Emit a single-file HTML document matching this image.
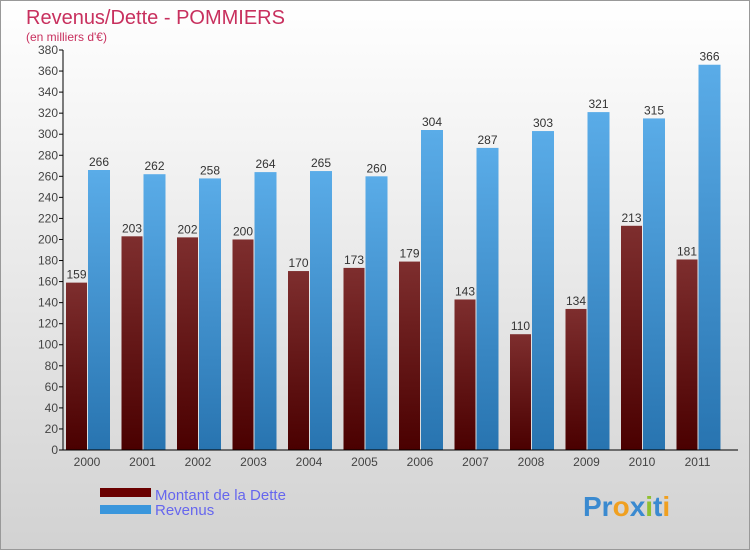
<!DOCTYPE html>
<html><head><meta charset="utf-8"><style>
body{margin:0}
svg{display:block;font-family:"Liberation Sans",sans-serif}
</style></head><body>
<svg id="c" width="750" height="550">
<defs>
<linearGradient id="bg" x1="0" y1="0" x2="0" y2="1"><stop offset="0" stop-color="#ffffff"/><stop offset="1" stop-color="#d2d2d2"/></linearGradient>
<linearGradient id="gd" x1="0" y1="0" x2="0" y2="1"><stop offset="0" stop-color="#7e2e2e"/><stop offset="1" stop-color="#4a0000"/></linearGradient>
<linearGradient id="gr" x1="0" y1="0" x2="0" y2="1"><stop offset="0" stop-color="#5aace8"/><stop offset="1" stop-color="#2874b0"/></linearGradient>
</defs>
<rect x="0.5" y="0.5" width="749" height="549" fill="url(#bg)" stroke="#999"/>
<text x="26" y="24" font-size="20" fill="#c8305e">Revenus/Dette - POMMIERS</text>
<text x="26" y="41" font-size="12" fill="#c8305e">(en milliers d'€)</text>
<g id="plot"></g>
<rect x="100" y="488" width="51" height="9" fill="#6a0000"/>
<rect x="100" y="505" width="51" height="9" fill="#3a96dc"/>
<text x="155" y="500" font-size="15" fill="#6666ee">Montant de la Dette</text>
<text x="155" y="515" font-size="15" fill="#6666ee">Revenus</text>
<text x="583" y="516" font-size="28" font-weight="bold" fill="#3a9ad8"><tspan fill="#3a8ad0">Pr</tspan><tspan fill="#f0a020">o</tspan><tspan fill="#3a8ad0">x</tspan><tspan fill="#90c030">i</tspan><tspan fill="#3a8ad0">t</tspan><tspan fill="#f0a020">i</tspan></text>
</svg>
<script>
const years=["2000","2001","2002","2003","2004","2005","2006","2007","2008","2009","2010","2011"];
const dette=[159,203,202,200,170,173,179,143,110,134,213,181];
const revenus=[266,262,258,264,265,260,304,287,303,321,315,366];
const yTicks=[0,20,40,60,80,100,120,140,160,180,200,220,240,260,280,300,320,340,360,380];
const NS="http://www.w3.org/2000/svg";
const g=document.getElementById('plot');
const x0=63,yBase=450,yTop=50,yMax=380,step=55.5;
const y=v=>yBase-(v/yMax)*(yBase-yTop);
const gx=i=>x0+3+i*step;
function mk(t,a,txt){const e=document.createElementNS(NS,t);for(const k in a)e.setAttribute(k,a[k]);if(txt!==undefined)e.textContent=txt;g.appendChild(e);return e;}
yTicks.forEach(v=>{
 const t=mk('line',{x1:x0-4,x2:x0,y1:y(v),y2:y(v),stroke:'#000'});
 
 
 const l=mk('text',{x:x0-5,y:y(v)+4,'font-size':12,fill:'#444','text-anchor':'end'},v);
 
 
});
years.forEach((yr,i)=>{
 const bx=gx(i);
 const b1=mk('rect',{x:bx,y:y(dette[i]),width:21,height:yBase-y(dette[i]),fill:'url(#gd)'});
 
 
 const b2=mk('rect',{x:bx+22,y:y(revenus[i]),width:22,height:yBase-y(revenus[i]),fill:'url(#gr)'});
 
 
 const l1=mk('text',{x:bx+10.5,y:y(dette[i])-4,'font-size':12,fill:'#333','text-anchor':'middle'},dette[i]);
 
 
 const l2=mk('text',{x:bx+33,y:y(revenus[i])-4,'font-size':12,fill:'#333','text-anchor':'middle'},revenus[i]);
 
 
 const xl=mk('text',{x:bx+21,y:yBase+16,'font-size':12,fill:'#444','text-anchor':'middle'},yr);
 
 
});
const ax=mk('line',{x1:x0,x2:x0,y1:yTop,y2:yBase,stroke:'#000'});


const bx=mk('line',{x1:x0,x2:738,y1:yBase,y2:yBase,stroke:'#000'});


</script>
</body></html>
